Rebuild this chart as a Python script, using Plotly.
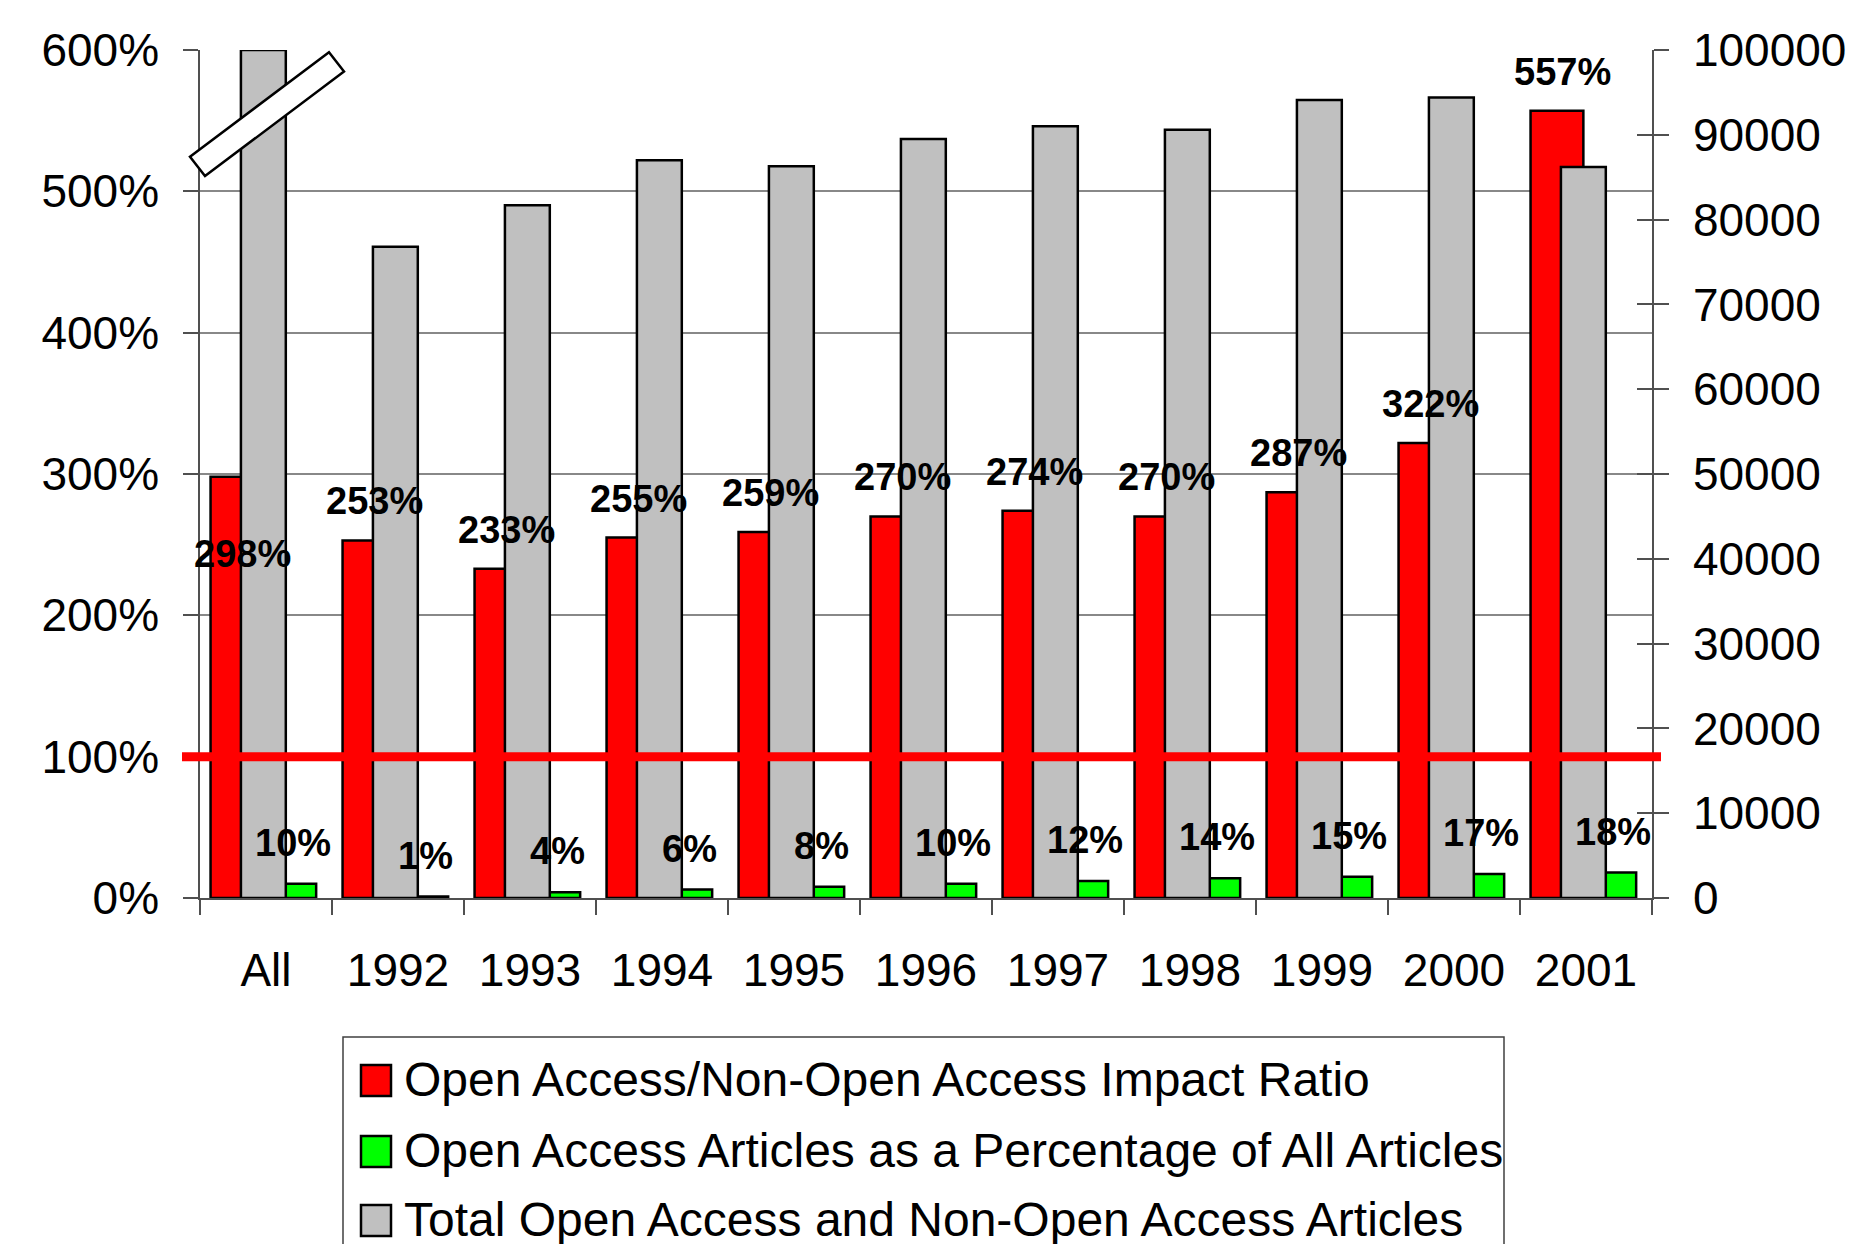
import plotly.graph_objects as go

# ---------------- data ----------------
categories = ["All", "1992", "1993", "1994", "1995", "1996", "1997", "1998", "1999", "2000", "2001"]
impact_ratio_pct = [298, 253, 233, 255, 259, 270, 274, 270, 287, 322, 557]
oa_share_pct = [10, 1, 4, 6, 8, 10, 12, 14, 15, 17, 18]
total_articles = [100000, 76800, 81700, 87000, 86300, 89500, 91000, 90600, 94100, 94400, 86200]
left_ticks = [0, 100, 200, 300, 400, 500, 600]
right_ticks = [0, 10000, 20000, 30000, 40000, 50000, 60000, 70000, 80000, 90000, 100000]
reference_ratio = 100

legend_labels = [
    "Open Access/Non-Open Access Impact Ratio",
    "Open Access Articles as a Percentage of All Articles",
    "Total Open Access and Non-Open Access Articles",
]

# ---------------- layout geometry (pixels) ----------------
W_PAGE, H_PAGE = 1850, 1244
L, R, T, B = 200, 1652, 50, 898
PW, PH = R - L, B - T

def px(xp):
    return (xp - L) / PW

def py(yp):
    return (B - yp) / PH

FONT = "Liberation Sans, Arial, sans-serif"
RED, GREEN, GRAY = "#FF0000", "#00FF00", "#C0C0C0"
OUTLINE = dict(color="black", width=2.5)

fig = go.Figure()

fig.add_trace(go.Bar(
    x=categories, y=impact_ratio_pct, name=legend_labels[0],
    marker=dict(color=RED, line=OUTLINE), offset=-0.42, width=0.40,
    yaxis="y", showlegend=False, hoverinfo="x+y",
))
fig.add_trace(go.Bar(
    x=categories, y=oa_share_pct, name=legend_labels[1],
    marker=dict(color=GREEN, line=OUTLINE), offset=-0.02, width=0.40,
    yaxis="y", showlegend=False, hoverinfo="x+y",
))
fig.add_trace(go.Bar(
    x=categories, y=total_articles, name=legend_labels[2],
    marker=dict(color=GRAY, line=OUTLINE), offset=-0.19, width=0.34,
    yaxis="y2", showlegend=False, hoverinfo="x+y",
))
# dummy trace to carry the inside tick marks of the right axis
fig.add_trace(go.Scatter(x=[], y=[], yaxis="y3", showlegend=False, hoverinfo="skip"))

LABEL_FONT = dict(family=FONT, size=38, color="black", weight="bold")
annotations = []
# red data labels (x given as category index)
red_label_yshift = [-77] + [39] * (len(categories) - 1)
for i, (v, ys) in enumerate(zip(impact_ratio_pct, red_label_yshift)):
    annotations.append(dict(
        x=i, y=v, xref="x", yref="y", text=f"{v}%", showarrow=False,
        xshift=-24, yshift=ys, yanchor="middle", xanchor="center",
        font=LABEL_FONT,
    ))
# green data labels
for i, v in enumerate(oa_share_pct):
    annotations.append(dict(
        x=i, y=v, xref="x", yref="y", text=f"{v}%", showarrow=False,
        xshift=27, yshift=41, yanchor="middle", xanchor="center",
        font=LABEL_FONT,
    ))

shapes = []
# 100% reference line
shapes.append(dict(
    type="line", xref="paper", yref="y", x0=px(182), x1=px(1661),
    y0=reference_ratio, y1=reference_ratio,
    line=dict(color=RED, width=9), layer="above",
))
# axis-break symbol over the "All" total bar
brk = [(190, 156.7), (205, 176), (344, 71.6), (329, 52.3)]
path = "M " + " L ".join(f"{px(a):.5f},{py(b):.5f}" for a, b in brk) + " Z"
shapes.append(dict(
    type="path", xref="paper", yref="paper", path=path,
    fillcolor="white", line=dict(color="black", width=2.5), layer="above",
))

# custom legend
shapes.append(dict(
    type="rect", xref="paper", yref="paper",
    x0=px(343), x1=px(1504), y0=py(1037), y1=py(1270),
    line=dict(color="#404040", width=1.5), fillcolor="rgba(0,0,0,0)", layer="above",
))
legend_colors = [RED, GREEN, GRAY]
row_tops = [1065, 1136, 1205]
for col, top, lab in zip(legend_colors, row_tops, legend_labels):
    shapes.append(dict(
        type="rect", xref="paper", yref="paper",
        x0=px(361), x1=px(391), y0=py(top), y1=py(top + 31),
        fillcolor=col, line=dict(color="black", width=2.5), layer="above",
    ))
    annotations.append(dict(
        x=px(402), y=py(top + 14), xref="paper", yref="paper",
        text=lab, showarrow=False, xanchor="left", yanchor="middle",
        font=dict(family=FONT, size=48, color="black"),
    ))

fig.update_layout(
    width=W_PAGE, height=H_PAGE,
    margin=dict(l=L, r=W_PAGE - R, t=T, b=H_PAGE - B, pad=0),
    paper_bgcolor="white", plot_bgcolor="white",
    barmode="overlay",
    font=dict(family=FONT, size=46, color="black"),
    xaxis=dict(
        type="category", categoryorder="array", categoryarray=categories,
        tickson="boundaries", ticks="outside", ticklen=15, tickwidth=1.5,
        tickcolor="#505050", showline=True, linecolor="#505050", linewidth=1.5,
        showgrid=False, tickfont=dict(size=46), ticklabelstandoff=31,
        range=[-0.5, len(categories) - 0.5], automargin=False,
    ),
    yaxis=dict(
        range=[0, 600], tickvals=left_ticks, ticktext=[f"{t}%" for t in left_ticks],
        ticks="outside", ticklen=15, tickwidth=1.5, tickcolor="#505050",
        showline=True, linecolor="#505050", linewidth=1.5,
        showgrid=True, gridcolor="#888888", gridwidth=1.5, zeroline=False,
        tickfont=dict(size=46), ticklabelstandoff=15, automargin=False,
    ),
    yaxis2=dict(
        overlaying="y", side="right", anchor="x",
        range=[0, 100000], tickvals=right_ticks, ticktext=[str(t) for t in right_ticks],
        ticks="outside", ticklen=15, tickwidth=1.5, tickcolor="#505050",
        showline=True, linecolor="#505050", linewidth=1.5,
        showgrid=False, zeroline=False, tickfont=dict(size=46), ticklabelstandoff=15,
        automargin=False,
    ),
    yaxis3=dict(
        overlaying="y", side="right", anchor="x",
        range=[0, 100000], tickvals=right_ticks, showticklabels=False,
        ticks="inside", ticklen=15, tickwidth=1.5, tickcolor="#505050",
        showline=False, showgrid=False, zeroline=False, automargin=False,
    ),
    annotations=annotations, shapes=shapes,
    showlegend=False,
)

fig.write_html(
    "out.html",
    config={"displayModeBar": False},
    post_script="document.body.style.margin='0';document.body.style.overflow='hidden';",
)
